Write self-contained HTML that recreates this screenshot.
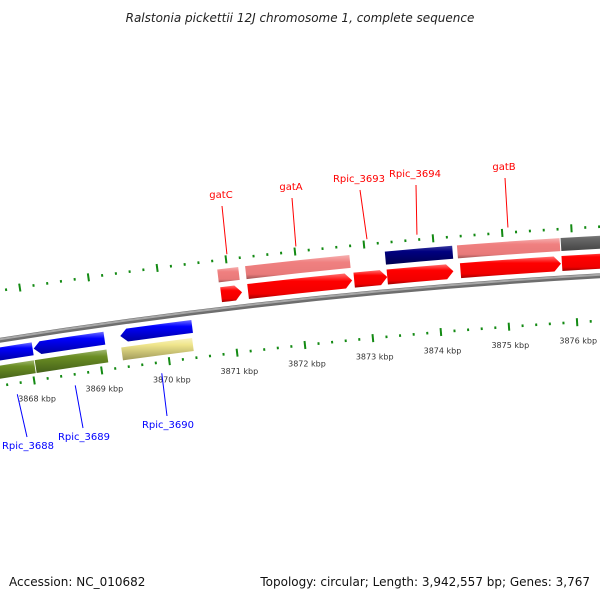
<!DOCTYPE html>
<html><head><meta charset="utf-8"><style>
body{margin:0;background:#fff;}
svg{display:block;font-family:"DejaVu Sans","Liberation Sans",sans-serif;}
</style></head><body>
<svg id="map" width="600" height="600" viewBox="0 0 600 600" xmlns="http://www.w3.org/2000/svg">
<defs>
<linearGradient id="g-red" x1="0" y1="0" x2="0" y2="1"><stop offset="0" stop-color="#ff7070"/><stop offset="0.3" stop-color="#ff0000"/><stop offset="0.8" stop-color="#f00000"/><stop offset="1" stop-color="#a00000"/></linearGradient>
<linearGradient id="g-pink" x1="0" y1="0" x2="0" y2="1"><stop offset="0" stop-color="#f6b0b0"/><stop offset="0.3" stop-color="#f08080"/><stop offset="0.8" stop-color="#e87a7a"/><stop offset="1" stop-color="#a05555"/></linearGradient>
<linearGradient id="g-grey" x1="0" y1="0" x2="0" y2="1"><stop offset="0" stop-color="#9a9a9a"/><stop offset="0.3" stop-color="#6a6a6a"/><stop offset="1" stop-color="#444"/></linearGradient>
<linearGradient id="g-navy" x1="0" y1="0" x2="0" y2="1"><stop offset="0" stop-color="#3a3aa0"/><stop offset="0.3" stop-color="#000080"/><stop offset="1" stop-color="#000050"/></linearGradient>
<linearGradient id="g-blue" x1="0" y1="0" x2="0" y2="1"><stop offset="0" stop-color="#7070ff"/><stop offset="0.3" stop-color="#0000ff"/><stop offset="1" stop-color="#0000a0"/></linearGradient>
<linearGradient id="g-green" x1="0" y1="0" x2="0" y2="1"><stop offset="0" stop-color="#a0b870"/><stop offset="0.3" stop-color="#6b8e23"/><stop offset="1" stop-color="#44601a"/></linearGradient>
<linearGradient id="g-yellow" x1="0" y1="0" x2="0" y2="1"><stop offset="0" stop-color="#f8f2c0"/><stop offset="0.3" stop-color="#f0e68c"/><stop offset="1" stop-color="#a09a5a"/></linearGradient>
</defs>
<text x="300" y="22" text-anchor="middle" font-size="12" font-style="italic" fill="#222">Ralstonia pickettii 12J chromosome 1, complete sequence</text>
<text x="9" y="586" font-size="12" fill="#111">Accession: NC_010682</text>
<text x="590" y="586" text-anchor="end" font-size="12" fill="#111">Topology: circular; Length: 3,942,557 bp; Genes: 3,767</text>
<g id="layer"></g>
</svg>
<script>
// ---- data ----
const fwdStarts = [3870869, 3871263, 3872810, 3873292, 3874358, 3875832];
const fwdEnds   = [3871175, 3872781, 3873292, 3874255, 3875818, 3877300];
const cogStarts = [3870857, 3871262, 3873290, 3874335, 3875835];
const cogEnds   = [3871162, 3872776, 3874266, 3875820, 3877300];
const cogColors = ['pink', 'pink', 'navy', 'pink', 'grey'];
const revStarts = [3867400, 3868064, 3869339];
const revEnds   = [3868049, 3869105, 3870395];
const cog2Starts = [3867400, 3868053, 3869329];
const cog2Ends   = [3868040, 3869112, 3870373];
const cog2Colors = ['green', 'green', 'yellow'];
const fwdLabels = ['gatC', 'gatA', 'Rpic_3693', 'Rpic_3694', 'gatB'];
const fwdLabelIdx = [0, 1, 2, 3, 4];
const fwdLabelPos = [[221, 198], [291, 190], [359, 182], [415, 177], [504, 170]];
const revLabels = ['Rpic_3688', 'Rpic_3689', 'Rpic_3690'];
const revLabelIdx = [0, 1, 2];
const revLabelPos = [[28, 446], [84, 437], [168, 425]];
const tickKbp = [3867, 3868, 3869, 3870, 3871, 3872, 3873, 3874, 3875, 3876, 3877];
// ---- geometry ----
const CX = 931, CY = 6177.5, R0 = 5911;
const PHI0 = -0.11857, K = 0.01164, BP0 = 3871000;
function ang(bp){ return PHI0 + (bp - BP0) / 1000 * K; }
function pt(bp, r){ const a = ang(bp); return [CX + r * Math.sin(a), CY - r * Math.cos(a)]; }
function f(p){ return p[0].toFixed(2) + ' ' + p[1].toFixed(2); }
const NS = 'http://www.w3.org/2000/svg';
const layer = document.getElementById('layer');
function mk(tag, attrs){ const e = document.createElementNS(NS, tag); for (const k in attrs) e.setAttribute(k, attrs[k]); layer.appendChild(e); return e; }
function bar(s, e, r1, r2){
  return 'M' + f(pt(s, r2)) + ' A' + r2 + ' ' + r2 + ' 0 0 1 ' + f(pt(e, r2)) +
    ' L' + f(pt(e, r1)) + ' A' + r1 + ' ' + r1 + ' 0 0 0 ' + f(pt(s, r1)) + ' Z';
}
const H = 100;
function fwdArrow(s, e, r1, r2){
  const h = Math.min(H, (e - s) * 0.5), rm = (r1 + r2) / 2;
  return 'M' + f(pt(s, r2)) + ' A' + r2 + ' ' + r2 + ' 0 0 1 ' + f(pt(e - h, r2)) +
    ' L' + f(pt(e, rm)) + ' L' + f(pt(e - h, r1)) + ' A' + r1 + ' ' + r1 + ' 0 0 0 ' + f(pt(s, r1)) + ' Z';
}
function revArrow(s, e, r1, r2){
  const h = Math.min(H, (e - s) * 0.5), rm = (r1 + r2) / 2;
  return 'M' + f(pt(s, rm)) + ' L' + f(pt(s + h, r2)) + ' A' + r2 + ' ' + r2 + ' 0 0 1 ' + f(pt(e, r2)) +
    ' L' + f(pt(e, r1)) + ' A' + r1 + ' ' + r1 + ' 0 0 0 ' + f(pt(s + h, r1)) + ' Z';
}
// backbone
const bb1 = mk('path', {d: 'M' + f(pt(3866000, R0)) + ' A' + R0 + ' ' + R0 + ' 0 0 1 ' + f(pt(3878000, R0)), fill: 'none', stroke: '#6e6e6e', 'stroke-width': 5});


const bb2 = mk('path', {d: 'M' + f(pt(3866000, R0 + 1)) + ' A' + (R0 + 1) + ' ' + (R0 + 1) + ' 0 0 1 ' + f(pt(3878000, R0 + 1)), fill: 'none', stroke: '#a8a8a8', 'stroke-width': 2});


// rulers
function ruler(rc, name){
  for (let bp = 3866000; bp <= 3878000; bp += 200){
    const major = (bp % 1000) === 0;
    const hl = major ? 4 : 1.3;
    const a = pt(bp, rc - hl), b = pt(bp, rc + hl);
    const t = mk('line', {x1: a[0], y1: a[1], x2: b[0], y2: b[1], stroke: '#138a13', 'stroke-width': 2});
    
    
  }
}
ruler(R0 + 49, 'outer-ruler');
ruler(R0 - 45, 'inner-ruler');
tickKbp.forEach(k => {
  const p = pt(k * 1000, R0 - 64);
  const t = mk('text', {x: p[0], y: p[1], 'text-anchor': 'middle', 'dominant-baseline': 'middle', 'font-size': 8, fill: '#333'});
  t.textContent = k + ' kbp';
  
  
});
// features
fwdStarts.forEach((s, i) => {
  const p = mk('path', {d: fwdArrow(s, fwdEnds[i], R0 + 7, R0 + 22), fill: 'url(#g-red)'});
  
  
});
cogStarts.forEach((s, i) => {
  const p = mk('path', {d: bar(s, cogEnds[i], R0 + 27, R0 + 40), fill: 'url(#g-' + cogColors[i] + ')'});
  
  
});
revStarts.forEach((s, i) => {
  const p = mk('path', {d: revArrow(s, revEnds[i], R0 - 20, R0 - 7), fill: 'url(#g-blue)'});
  
  
});
cog2Starts.forEach((s, i) => {
  const p = mk('path', {d: bar(s, cog2Ends[i], R0 - 38, R0 - 25), fill: 'url(#g-' + cog2Colors[i] + ')'});
  
  
});
// labels
fwdLabels.forEach((txt, j) => {
  const i = fwdLabelIdx[j], mid = (fwdStarts[i] + fwdEnds[i]) / 2;
  const e = pt(mid, R0 + 54), lp = fwdLabelPos[j];
  const l = mk('line', {x1: lp[0] + 1, y1: lp[1] + 8, x2: e[0], y2: e[1], stroke: '#ff0000', 'stroke-width': 1});
  
  
  const t = mk('text', {x: lp[0], y: lp[1], 'text-anchor': 'middle', 'font-size': 10, fill: '#ff0000'});
  t.textContent = txt;
  
  
});
revLabels.forEach((txt, j) => {
  const i = revLabelIdx[j], mid = (revStarts[i] + revEnds[i]) / 2;
  const e = pt(mid, R0 - 56), lp = revLabelPos[j];
  const l = mk('line', {x1: e[0], y1: e[1], x2: lp[0] - 1, y2: lp[1] - 9, stroke: '#0000ff', 'stroke-width': 1});
  
  
  const t = mk('text', {x: lp[0], y: lp[1] + 3, 'text-anchor': 'middle', 'font-size': 10, fill: '#0000ff'});
  t.textContent = txt;
  
  
});
</script>
</body></html>
